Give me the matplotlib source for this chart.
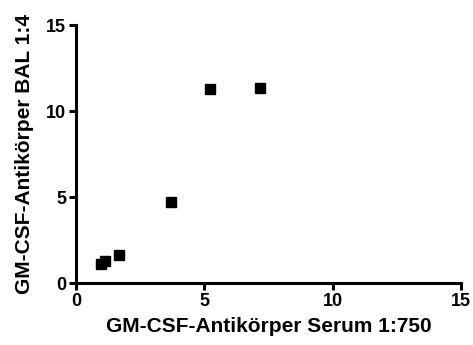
import matplotlib
matplotlib.use('Agg')
import matplotlib.pyplot as plt

# Data
serum = [0.99, 1.13, 1.66, 3.69, 5.21, 7.16]
bal = [1.11, 1.28, 1.62, 4.69, 11.27, 11.33]
ticks = [0, 5, 10, 15]

plt.rcParams['font.family'] = ['Liberation Sans', 'DejaVu Sans']
plt.rcParams['font.weight'] = 'bold'

fig = plt.figure(figsize=(4.73, 3.45), dpi=100)
ax = fig.add_axes([0.1607, 0.1797, 0.8139, 0.7478])
ax.plot(serum, bal, 's', color='black', markersize=7, clip_on=False)

ax.set_xlim(0, 15)
ax.set_ylim(0, 15)
ax.set_xticks(ticks)
ax.set_yticks(ticks)
for s in ['top', 'right']:
    ax.spines[s].set_visible(False)
for s in ['left', 'bottom']:
    ax.spines[s].set_linewidth(2.2)
ax.tick_params(width=2.2, length=5, labelsize=13, pad=2)
for lbl in ax.get_xticklabels() + ax.get_yticklabels():
    lbl.set_fontweight('bold')

ax.set_xlabel('GM-CSF-Antikörper Serum 1:750', fontsize=15, fontweight='bold', labelpad=5)
ax.set_ylabel('GM-CSF-Antikörper BAL 1:4', fontsize=15, fontweight='bold', labelpad=9)

fig.savefig('out.png', dpi=100)
